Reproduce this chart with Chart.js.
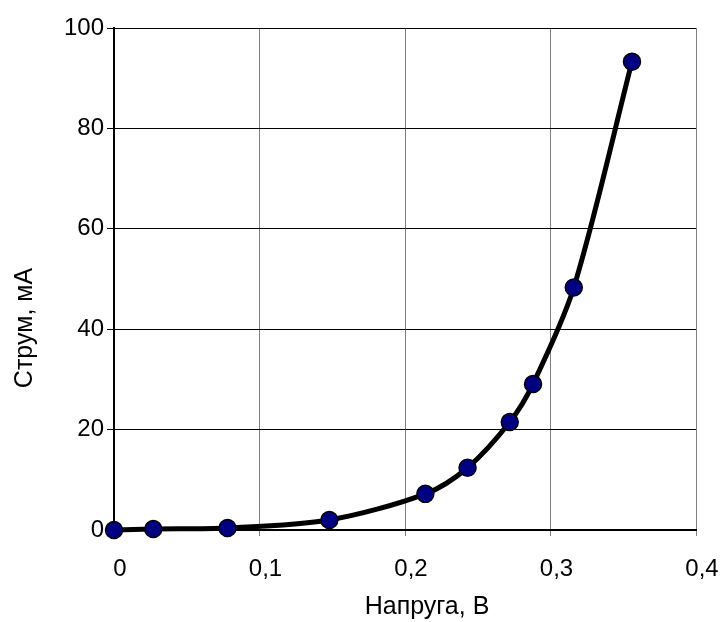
<!DOCTYPE html>
<html>
<head>
<meta charset="utf-8">
<script src="https://cdn.jsdelivr.net/npm/chart.js@4/dist/chart.umd.min.js"></script>
<style>
  html, body { margin:0; padding:0; background:#fff; }
  #wrap { width:721px; height:622px; }
</style>
</head>
<body>
<div id="wrap"><canvas id="iv-chart" width="721" height="622"></canvas></div>
<script>
// Вольт-амперна характеристика: напруга (В) -> струм (мА)
const voltage = [0, 0.027, 0.078, 0.148, 0.214, 0.243, 0.272, 0.288, 0.316, 0.356];
const current = [0, 0.2, 0.4, 2.0, 7.2, 12.4, 21.5, 29.1, 48.3, 93.3];
const xTicks  = [0, 0.1, 0.2, 0.3, 0.4];
const yTicks  = [0, 20, 40, 60, 80, 100];
const xTitle  = 'Напруга, В';
const yTitle  = 'Струм, мА';

const FONT = "'Liberation Sans', Arial, sans-serif";

const pts = voltage.map((v,i) => ({ x:v, y:current[i] }));

// axis titles placed like the Excel original (centred on the whole figure, not the plot)
const axisTitles = {
  id:'axisTitles',
  afterDraw(chart) {
    const c = chart.ctx;
    c.save();
    c.fillStyle = '#000';
    c.font = `25px ${FONT}`;
    c.textAlign = 'center'; c.textBaseline = 'middle';
    c.fillText(xTitle, 427, 607);
    c.translate(25, 328);
    c.rotate(-Math.PI/2);
    c.fillText(yTitle, 0, 0);
    c.restore();
  }
};

new Chart(document.getElementById('iv-chart'), {
  type: 'line',
  data: { datasets: [{
    data: pts,
    borderColor:'#000', borderWidth:5, tension:0.3, fill:false, clip:false,
    pointRadius:8.5, pointBackgroundColor:'#000080', pointBorderColor:'#000', pointBorderWidth:1.5,
  }]},
  options: {
    responsive:false, animation:false,
    layout:{ padding:{ top:28, right:25, left:0, bottom:0 } },
    plugins:{ legend:{display:false}, tooltip:{enabled:false} },
    scales:{
      x:{
        type:'linear', min:0, max:0.4,
        afterBuildTicks: s => { s.ticks = xTicks.map(v=>({value:v})); },
        afterFit: s => { s.height = 92; s.paddingLeft = 0; s.paddingRight = 0; },
        grid:{ color:'#808080', lineWidth:1, tickLength:6 },
        border:{ color:'#000', width:2 },
        ticks:{ color:'#000', font:{family:FONT,size:24}, padding:19, labelOffset:6,
          callback: v => String(+v.toFixed(1)).replace('.', ',') }
      },
      y:{
        min:0, max:100,
        afterBuildTicks: s => { s.ticks = yTicks.map(v=>({value:v})); },
        afterFit: s => { s.width = 114; s.paddingTop = 0; s.paddingBottom = 0; },
        grid:{ color:'#000', lineWidth:1, tickLength:7 },
        border:{ color:'#000', width:2 },
        ticks:{ color:'#000', font:{family:FONT,size:24}, padding:3 }
      }
    }
  },
  plugins:[axisTitles]
});
</script>
</body>
</html>
